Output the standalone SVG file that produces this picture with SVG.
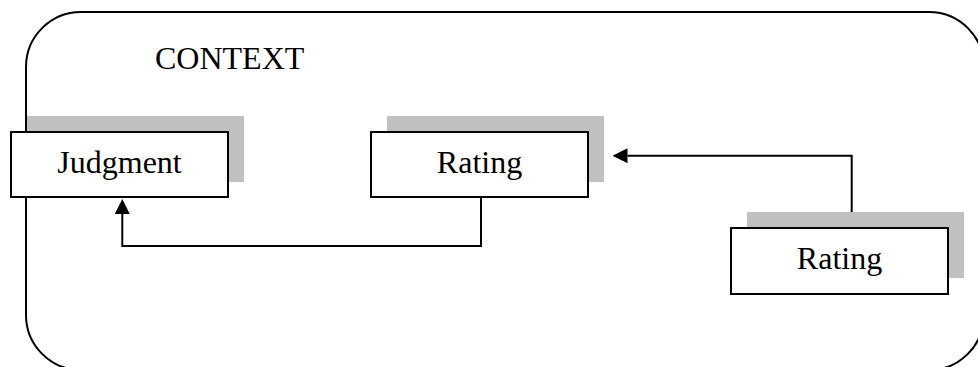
<svg xmlns="http://www.w3.org/2000/svg" width="978" height="367" viewBox="0 0 978 367">
  <style>
    .frame { fill: none; stroke: #000; stroke-width: 2; }
    .shadow { fill: #c0c0c0; stroke: none; }
    .box { fill: #fff; stroke: #000; stroke-width: 2; }
    .label { font-family: "Liberation Serif", "Times New Roman", serif; font-size: 32px; fill: #000; }
    .conn { fill: none; stroke: #000; stroke-width: 2; }
  </style>
  <defs>
    <marker id="arrow" viewBox="0 0 15 15" refX="0" refY="7.5" markerWidth="15" markerHeight="15" markerUnits="userSpaceOnUse" orient="auto">
      <path d="M0,0 L15,7.5 L0,15 z" fill="#000"/>
    </marker>
  </defs>
  <rect width="978" height="367" fill="#fff"/>
  <g id="context">
    <rect class="frame" x="26" y="12" width="958" height="358" rx="55" ry="55"/>
    <text class="label" x="155" y="68.5">CONTEXT</text>
  </g>
  <g id="connectors">
    <path class="conn" d="M481,198 V246 H122.3 V214" marker-end="url(#arrow)"/>
    <path class="conn" d="M851.7,228 V155.7 H627.5" marker-end="url(#arrow)"/>
  </g>
  <g id="judgment">
    <rect class="shadow" x="27" y="116" width="217" height="66"/>
    <rect class="box" x="11" y="132" width="217" height="65"/>
    <text class="label" x="119.5" y="172.7" text-anchor="middle">Judgment</text>
  </g>
  <g id="rating1">
    <rect class="shadow" x="387" y="116" width="217" height="66"/>
    <rect class="box" x="371" y="132" width="217" height="65"/>
    <text class="label" x="479.5" y="172.7" text-anchor="middle">Rating</text>
  </g>
  <g id="rating2">
    <rect class="shadow" x="747" y="212" width="217" height="66"/>
    <rect class="box" x="731" y="228" width="217" height="66"/>
    <text class="label" x="839.5" y="269.3" text-anchor="middle">Rating</text>
  </g>
</svg>
